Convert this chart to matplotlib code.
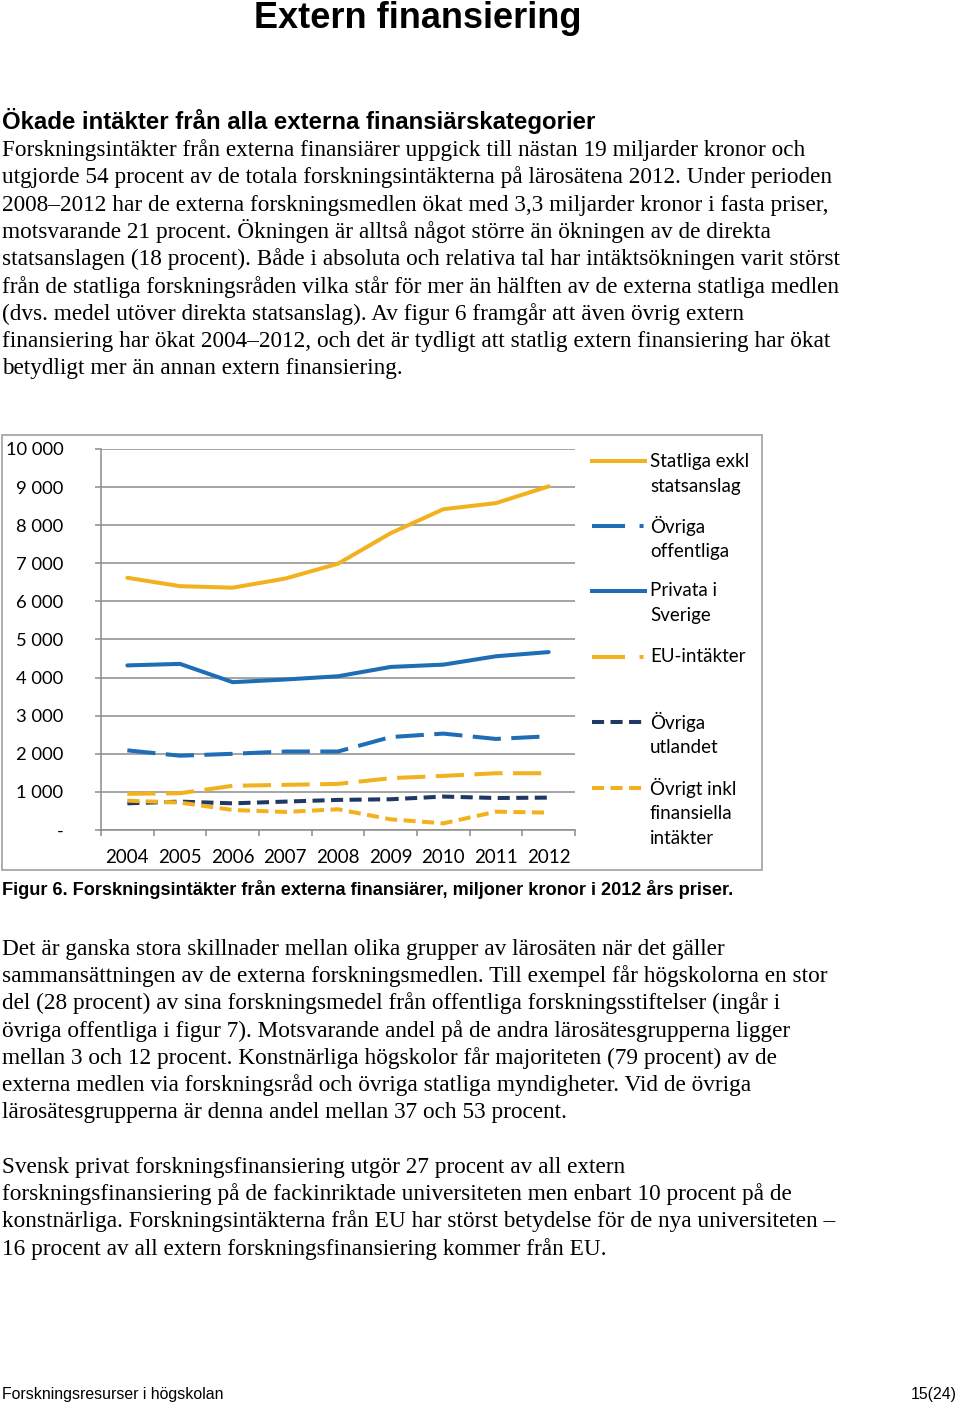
import matplotlib.pyplot as plt
from matplotlib.lines import Line2D
from matplotlib.patches import Rectangle
from matplotlib.ticker import FixedLocator, FuncFormatter

# Data (miljoner kronor, 2012 års priser)
years = ['2004', '2005', '2006', '2007', '2008', '2009', '2010', '2011', '2012']
statliga = [6620, 6400, 6360, 6600, 6990, 7790, 8420, 8580, 9020]
ovriga_offentliga = [2090, 1950, 2000, 2060, 2060, 2440, 2530, 2390, 2460]
privata = [4320, 4360, 3880, 3950, 4035, 4280, 4340, 4560, 4670]
eu = [950, 965, 1160, 1185, 1210, 1360, 1420, 1490, 1490]
ovriga_utlandet = [700, 745, 700, 745, 790, 807, 877, 840, 850]
ovrigt_inkl = [770, 720, 526, 474, 544, 280, 175, 480, 456]

yellow = '#F2B21F'
blue = '#1F6DB4'
navy = '#1F3864'
gray = '#8C8C8C'

W, H = 960, 1405


def fx(x):
    return x / W


def fy(y):
    return 1 - y / H


fig = plt.figure(figsize=(9.6, 14.05), dpi=100)

serif = 'Liberation Serif'
sans = 'Liberation Sans'
chartfont = 'Lato'
bodysize = 16.72

# page heading (partly cut at top of page)
fig.text(fx(418), fy(28), 'Extern finansiering', family=sans, weight='bold',
         fontsize=26, ha='center', va='baseline')
fig.text(fx(2), fy(129), 'Ökade intäkter från alla externa finansiärskategorier',
         family=sans, weight='bold', fontsize=17.3, ha='left', va='baseline')

para1 = [
    'Forskningsintäkter från externa finansiärer uppgick till nästan 19 miljarder kronor och',
    'utgjorde 54 procent av de totala forskningsintäkterna på lärosätena 2012. Under perioden',
    '2008–2012 har de externa forskningsmedlen ökat med 3,3 miljarder kronor i fasta priser,',
    'motsvarande 21 procent. Ökningen är alltså något större än ökningen av de direkta',
    'statsanslagen (18 procent). Både i absoluta och relativa tal har intäktsökningen varit störst',
    'från de statliga forskningsråden vilka står för mer än hälften av de externa statliga medlen',
    '(dvs. medel utöver direkta statsanslag). Av figur 6 framgår att även övrig extern',
    'finansiering har ökat 2004–2012, och det är tydligt att statlig extern finansiering har ökat',
    'betydligt mer än annan extern finansiering.',
]
for i, line in enumerate(para1):
    fig.text(fx(2), fy(156 + i * 27.3), line, family=serif, fontsize=bodysize,
             ha='left', va='baseline')

para2 = [
    'Det är ganska stora skillnader mellan olika grupper av lärosäten när det gäller',
    'sammansättningen av de externa forskningsmedlen. Till exempel får högskolorna en stor',
    'del (28 procent) av sina forskningsmedel från offentliga forskningsstiftelser (ingår i',
    'övriga offentliga i figur 7). Motsvarande andel på de andra lärosätesgrupperna ligger',
    'mellan 3 och 12 procent. Konstnärliga högskolor får majoriteten (79 procent) av de',
    'externa medlen via forskningsråd och övriga statliga myndigheter. Vid de övriga',
    'lärosätesgrupperna är denna andel mellan 37 och 53 procent.',
]
for i, line in enumerate(para2):
    fig.text(fx(2), fy(955 + i * 27.2), line, family=serif, fontsize=bodysize,
             ha='left', va='baseline')

para3 = [
    'Svensk privat forskningsfinansiering utgör 27 procent av all extern',
    'forskningsfinansiering på de fackinriktade universiteten men enbart 10 procent på de',
    'konstnärliga. Forskningsintäkterna från EU har störst betydelse för de nya universiteten –',
    '16 procent av all extern forskningsfinansiering kommer från EU.',
]
for i, line in enumerate(para3):
    fig.text(fx(2), fy(1173 + i * 27.2), line, family=serif, fontsize=bodysize,
             ha='left', va='baseline')

fig.text(fx(2), fy(895), 'Figur 6. Forskningsintäkter från externa finansiärer, miljoner kronor i 2012 års priser.',
         family=sans, weight='bold', fontsize=13.05, ha='left', va='baseline')

fig.text(fx(2), fy(1399), 'Forskningsresurser i högskolan', family=sans, fontsize=11.4,
         ha='left', va='baseline')
fig.text(fx(957), fy(1399), '15(24)', family=sans, fontsize=11.4, ha='right', va='baseline')

# chart frame
fig.add_artist(Rectangle((fx(2), fy(870)), fx(760), (870 - 435) / H, transform=fig.transFigure,
                         fill=False, edgecolor='#A0A0A0', lw=1.2))

ax = fig.add_axes([fx(101), fy(830), (575 - 101) / W, (830 - 449) / H])
x = list(range(len(years)))

lw = 2.9
styles = [
    (statliga, yellow, '-'),
    (ovriga_offentliga, blue, (0, (7, 2.6))),
    (privata, blue, '-'),
    (eu, yellow, (0, (7, 2.6))),
    (ovriga_utlandet, navy, (0, (3, 1.6))),
    (ovrigt_inkl, yellow, (0, (3, 1.6))),
]
for vals, col, ls in styles:
    ax.plot(x, vals, color=col, lw=lw, linestyle=ls, solid_capstyle='round',
            dash_capstyle='butt', zorder=3)

ax.set_xlim(-0.5, len(years) - 0.5)
ax.set_ylim(0, 10000)
ax.set_yticks(range(0, 10001, 1000))
ax.yaxis.set_major_formatter(FuncFormatter(lambda v, p: '-' if v == 0 else f'{int(v):,}'.replace(',', ' ')))
ax.grid(axis='y', color=gray, lw=1.1)
ax.set_axisbelow(True)

ax.set_xticks(x)
ax.set_xticklabels(years)
ax.xaxis.set_minor_locator(FixedLocator([i - 0.5 for i in range(len(years) + 1)]))
ax.tick_params(axis='x', which='major', length=0, pad=14, labelsize=13.5)
ax.tick_params(axis='x', which='minor', length=4, color=gray, width=1.1)
ax.tick_params(axis='y', length=4, color=gray, width=1.1, pad=23, labelsize=13.2)
for lab in ax.get_xticklabels() + ax.get_yticklabels():
    lab.set_family(chartfont)

for s in ['top', 'right']:
    ax.spines[s].set_visible(False)
for s in ['left', 'bottom']:
    ax.spines[s].set_color(gray)
    ax.spines[s].set_linewidth(1.1)

# legend drawn to the right of the plot
legend_items = [
    (['Statliga exkl', 'statsanslag'], yellow, '-'),
    (['Övriga', 'offentliga'], blue, (0, (8.2, 3.6, 1, 10))),
    (['Privata i', 'Sverige'], blue, '-'),
    (['EU-intäkter'], yellow, (0, (8.2, 3.6, 1, 10))),
    (['Övriga', 'utlandet'], navy, (0, (3, 1.6))),
    (['Övrigt inkl', 'finansiella', 'intäkter'], yellow, (0, (3, 1.6))),
]
legend_y = [461, 526, 591, 657, 722, 788]
for (labels, col, ls), ly in zip(legend_items, legend_y):
    fig.add_artist(Line2D([fx(592), fx(645)], [fy(ly), fy(ly)], transform=fig.transFigure,
                          color=col, lw=lw, linestyle=ls, dash_capstyle='butt'))
    for j, t in enumerate(labels):
        fig.text(fx(650), fy(ly + j * 25), t, family=chartfont, fontsize=13.5,
                 ha='left', va='center')

fig.savefig('out.png', dpi=100)
